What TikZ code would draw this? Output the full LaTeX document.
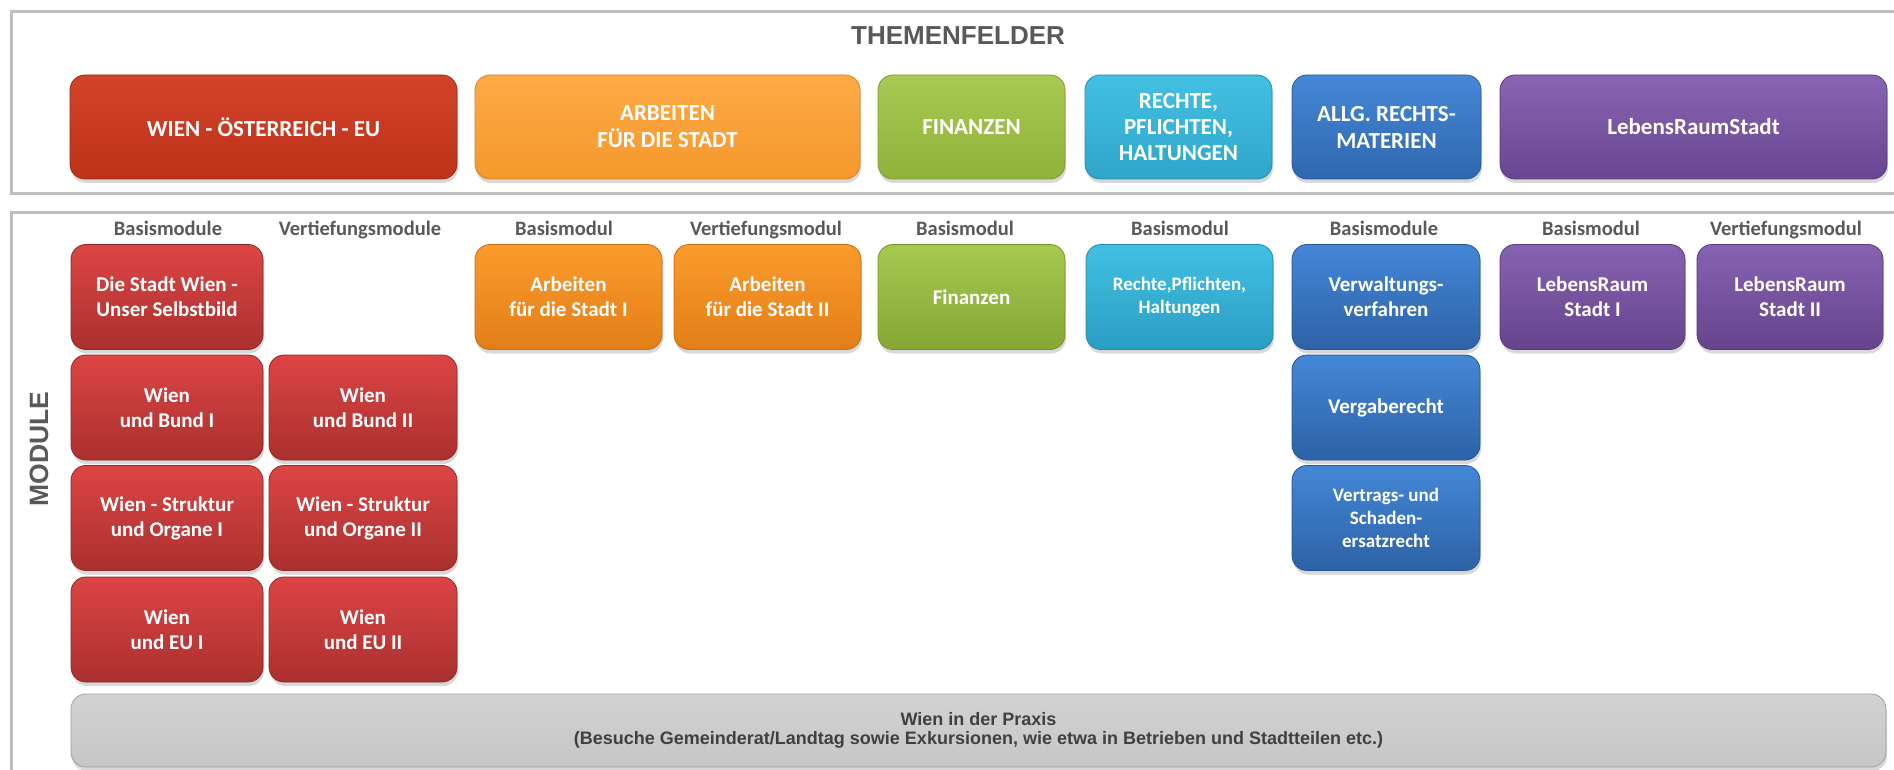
\documentclass[tikz,border=0pt]{standalone}
\usepackage{fontspec}
\setmainfont{Carlito}
\newfontfamily\arialfont{Liberation Sans}
\usetikzlibrary{shadows}

% palette
\definecolor{framegray}{HTML}{BFBFBF}
\definecolor{headgray}{HTML}{595959}
\definecolor{bartext}{HTML}{404040}

\tikzset{
  tile/.style n args={3}{
    rounded corners=15pt, top color=#1, bottom color=#2, draw=#3, line width=0.8pt,
    drop shadow={shadow xshift=1pt, shadow yshift=-4pt, opacity=0.3},
    text=white, align=center, inner sep=0pt},
  topsize/.style={minimum height=104pt, font=\bfseries\fontsize{23}{27}\selectfont},
  modsize/.style={minimum width=188pt, minimum height=105pt, font=\bfseries\fontsize{21}{25}\selectfont},
  smalltext/.style={font=\bfseries\fontsize{19}{23}\selectfont},
  colhead/.style={text=headgray, font=\bfseries\fontsize{20.5}{24}\selectfont, anchor=base},
  frame/.style={draw=framegray, line width=3pt},
}

% top row (Themenfelder)
\definecolor{rtA}{HTML}{D2432A}\definecolor{rtB}{HTML}{BD3219}\definecolor{rtC}{HTML}{9E2A15}
\definecolor{otA}{HTML}{FDAA45}\definecolor{otB}{HTML}{F5982C}\definecolor{otC}{HTML}{D9861F}
\definecolor{gtA}{HTML}{A9CA52}\definecolor{gtB}{HTML}{90B23A}\definecolor{gtC}{HTML}{7D9B30}
\definecolor{ctA}{HTML}{43C0E2}\definecolor{ctB}{HTML}{2FA6CA}\definecolor{ctC}{HTML}{268EAF}
\definecolor{btA}{HTML}{4588D8}\definecolor{btB}{HTML}{2F67AE}\definecolor{btC}{HTML}{285A99}
\definecolor{ptA}{HTML}{8964B3}\definecolor{ptB}{HTML}{694690}\definecolor{ptC}{HTML}{5A3C7C}
% module tiles
\definecolor{rmA}{HTML}{DC4544}\definecolor{rmB}{HTML}{AA302F}\definecolor{rmC}{HTML}{8F2827}
\definecolor{omA}{HTML}{FB9B2D}\definecolor{omB}{HTML}{E27E17}\definecolor{omC}{HTML}{C86E12}
\definecolor{gmA}{HTML}{A6C94E}\definecolor{gmB}{HTML}{86A635}\definecolor{gmC}{HTML}{74922C}
\definecolor{cmA}{HTML}{42C0E2}\definecolor{cmB}{HTML}{2A9DC3}\definecolor{cmC}{HTML}{2388AA}
\definecolor{bmA}{HTML}{4487D7}\definecolor{bmB}{HTML}{2D62A6}\definecolor{bmC}{HTML}{275592}
\definecolor{pmA}{HTML}{8762B1}\definecolor{pmB}{HTML}{66448D}\definecolor{pmC}{HTML}{573A79}
\definecolor{gyA}{HTML}{D2D2D2}\definecolor{gyB}{HTML}{C6C6C6}\definecolor{gyC}{HTML}{A0A0A0}

\begin{document}
\begin{tikzpicture}[x=1pt, y=-1pt]
\useasboundingbox (0,0) rectangle (1894,770);
\clip (0,0) rectangle (1894,770);
\fill[white] (0,0) rectangle (1894,770);

% the two frames
\draw[frame] (11,12) rectangle (1915,194);
\draw[frame] (11,212) rectangle (1915,800);

% titles
\node[anchor=base, text=headgray, font=\arialfont\bfseries\fontsize{26}{30}\selectfont] (ttl) at (958,45) {THEMENFELDER};
\node[rotate=90, text=headgray, font=\arialfont\bfseries\fontsize{26.5}{30}\selectfont] (mod) at (39,449) {MODULE};

% Themenfelder
\node[tile={rtA}{rtB}{rtC}, topsize, minimum width=387pt] (t1) at (263.5,127) {WIEN - ÖSTERREICH - EU};
\node[tile={otA}{otB}{otC}, topsize, minimum width=385pt] (t2) at (667.5,127) {ARBEITEN\\FÜR DIE STADT};
\node[tile={gtA}{gtB}{gtC}, topsize, minimum width=187pt] (t3) at (971.5,127) {FINANZEN};
\node[tile={ctA}{ctB}{ctC}, topsize, minimum width=187pt, font=\bfseries\fontsize{23}{26}\selectfont] (t4) at (1178.5,127) {RECHTE,\\PFLICHTEN,\\HALTUNGEN};
\node[tile={btA}{btB}{btC}, topsize, minimum width=189pt] (t5) at (1386.5,127) {ALLG. RECHTS-\\MATERIEN};
\node[tile={ptA}{ptB}{ptC}, topsize, minimum width=387pt] (t6) at (1693.5,127) {LebensRaumStadt};

% column headings
\node[colhead] (h1) at (168,235) {Basismodule};
\node[colhead] (h2) at (360,235) {Vertiefungsmodule};
\node[colhead] (h3) at (564,235) {Basismodul};
\node[colhead] (h4) at (766,235) {Vertiefungsmodul};
\node[colhead] (h5) at (965,235) {Basismodul};
\node[colhead] (h6) at (1180,235) {Basismodul};
\node[colhead] (h7) at (1384,235) {Basismodule};
\node[colhead] (h8) at (1591,235) {Basismodul};
\node[colhead] (h9) at (1786,235) {Vertiefungsmodul};

% Wien - Österreich - EU
\node[tile={rmA}{rmB}{rmC}, modsize, minimum width=192pt] (r11) at (167,297) {Die Stadt Wien -\\Unser Selbstbild};
\node[tile={rmA}{rmB}{rmC}, modsize, minimum width=192pt] (r21) at (167,407.5) {Wien\\und Bund I};
\node[tile={rmA}{rmB}{rmC}, modsize, minimum width=192pt] (r31) at (167,518) {Wien - Struktur\\und Organe I};
\node[tile={rmA}{rmB}{rmC}, modsize, minimum width=192pt] (r41) at (167,629.5) {Wien\\und EU I};
\node[tile={rmA}{rmB}{rmC}, modsize] (r22) at (363,407.5) {Wien\\und Bund II};
\node[tile={rmA}{rmB}{rmC}, modsize] (r32) at (363,518) {Wien - Struktur\\und Organe II};
\node[tile={rmA}{rmB}{rmC}, modsize] (r42) at (363,629.5) {Wien\\und EU II};

% Arbeiten für die Stadt
\node[tile={omA}{omB}{omC}, modsize, minimum width=187pt] (o1) at (568.5,297) {Arbeiten\\für die Stadt I};
\node[tile={omA}{omB}{omC}, modsize, minimum width=187pt] (o2) at (767.5,297) {Arbeiten\\für die Stadt II};

% Finanzen
\node[tile={gmA}{gmB}{gmC}, modsize, minimum width=187pt] (g1) at (971.5,297) {Finanzen};

% Rechte, Pflichten, Haltungen
\node[tile={cmA}{cmB}{cmC}, modsize, smalltext, minimum width=187pt] (c1) at (1179.5,297) {Rechte,Pflichten,\\Haltungen};

% Allg. Rechtsmaterien
\node[tile={bmA}{bmB}{bmC}, modsize] (b1) at (1386,297) {Verwaltungs-\\verfahren};
\node[tile={bmA}{bmB}{bmC}, modsize] (b2) at (1386,407.5) {Vergaberecht};
\node[tile={bmA}{bmB}{bmC}, modsize, smalltext] (b3) at (1386,518) {Vertrags- und\\Schaden-\\ersatzrecht};

% LebensRaumStadt
\node[tile={pmA}{pmB}{pmC}, modsize, minimum width=185pt] (p1) at (1592.5,297) {LebensRaum\\Stadt I};
\node[tile={pmA}{pmB}{pmC}, modsize, minimum width=186pt] (p2) at (1790,297) {LebensRaum\\Stadt II};

% Praxis bar
\node[tile={gyA}{gyB}{gyC}, minimum width=1815pt, minimum height=73pt, text=bartext,
      font=\arialfont\bfseries\fontsize{18}{18.5}\selectfont] (bar) at (978.5,730.5)
  {Wien in der Praxis\\(Besuche Gemeinderat/Landtag sowie Exkursionen, wie etwa in Betrieben und Stadtteilen etc.)};
\end{tikzpicture}
\end{document}
